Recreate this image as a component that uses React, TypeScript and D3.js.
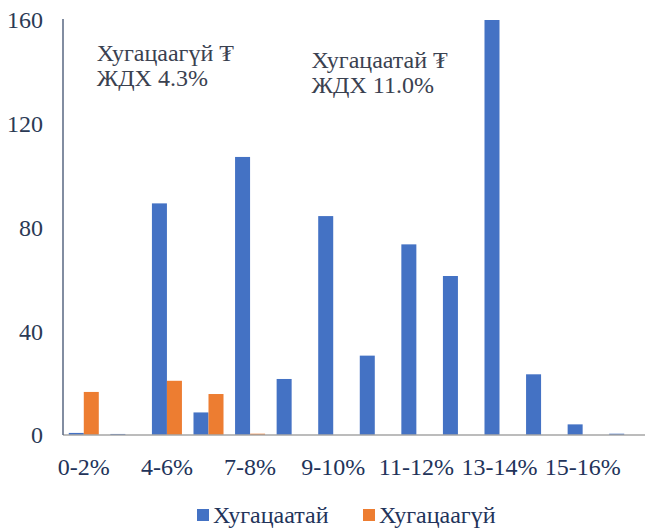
import React, { useEffect, useRef } from "react";
import * as d3 from "d3";

const categories = ["0-2%", "2-4%", "4-6%", "6-7%", "7-8%", "8-9%", "9-10%", "10-11%", "11-12%", "12-13%", "13-14%", "14-15%", "15-16%", "16-17%"];
const seriesNames = ["Хугацаатай", "Хугацаагүй"];
const withTerm = [0.8, 0.4, 89.3, 8.7, 107.2, 21.6, 84.4, 30.6, 73.5, 61.3, 160, 23.4, 4.1, 0.5];
const noTerm = [16.6, 0, 20.9, 15.8, 0.5, 0, 0, 0, 0, 0, 0, 0, 0, 0];
const yTicks = [0, 40, 80, 120, 160];
const colors = ["#4472C4", "#ED7D31"];
const annotations = [
  { lines: ["Хугацаагүй ₮", "ЖДХ 4.3%"], pos: 0.81, val: 144.3 },
  { lines: ["Хугацаатай ₮", "ЖДХ 11.0%"], pos: 5.98, val: 141.6 },
];

const W = 646;
const H = 532;
const M = { left: 63, right: 1, top: 20, bottom: 97 };
const FONT = "'Liberation Serif', 'Times New Roman', serif";

export default function App() {
  const ref = useRef<SVGSVGElement>(null);
  useEffect(() => {
    const svg = d3.select(ref.current);
    svg.selectAll("*").remove();
    const x0 = d3.scaleBand<string>().domain(categories).range([M.left, W - M.right]).paddingInner(0).paddingOuter(0);
    const bw = x0.bandwidth();
    const gap = (bw * 0.77) / 2.77;
    const x1 = d3.scaleBand<string>().domain(seriesNames).range([gap / 2, bw - gap / 2]).padding(0);
    const y = d3.scaleLinear().domain([0, 160]).range([H - M.bottom, M.top]);

    const data = [withTerm, noTerm];
    seriesNames.forEach((s, si) => {
      svg.append("g")
        .selectAll("rect")
        .data(categories.map((c, i) => ({ c, v: data[si][i] })))
        .join("rect")
        .attr("x", (d) => (x0(d.c) as number) + (x1(s) as number))
        .attr("y", (d) => y(d.v))
        .attr("width", x1.bandwidth())
        .attr("height", (d) => y(0) - y(d.v))
        .attr("fill", colors[si]);
    });

    svg.append("line")
      .attr("x1", M.left).attr("x2", W - M.right)
      .attr("y1", y(0)).attr("y2", y(0))
      .attr("stroke", "#a6a6a6").attr("stroke-width", 1.5);
    svg.append("line")
      .attr("x1", M.left).attr("x2", M.left)
      .attr("y1", y(160) - 1).attr("y2", y(0))
      .attr("stroke", "#596782").attr("stroke-width", 1.5);

    svg.append("g")
      .selectAll("text")
      .data(yTicks)
      .join("text")
      .attr("x", 43)
      .attr("y", (d) => y(d))
      .attr("dy", "0.35em")
      .attr("text-anchor", "end")
      .style("font-family", FONT)
      .attr("font-size", 24)
      .attr("fill", "#2b3a55")
      .text((d) => String(d));

    svg.append("g")
      .selectAll("text")
      .data(categories.filter((_, i) => i % 2 === 0))
      .join("text")
      .attr("x", (d) => (x0(d) as number) + bw / 2)
      .attr("y", 475)
      .attr("text-anchor", "middle")
      .style("font-family", FONT)
      .attr("font-size", 24)
      .attr("fill", "#22335a")
      .text((d) => d);

    annotations.forEach((a) => {
      const t = svg.append("text")
        .style("font-family", FONT)
        .attr("font-size", 24)
        .attr("fill", "#3a4150");
      const ax = M.left + a.pos * bw;
      a.lines.forEach((l, i) => {
        t.append("tspan").attr("x", ax).attr("y", y(a.val) + i * 25.5).text(l);
      });
    });

    const legendX = [197, 363];
    seriesNames.forEach((s, si) => {
      svg.append("rect")
        .attr("x", legendX[si]).attr("y", 509)
        .attr("width", 12).attr("height", 12)
        .attr("fill", colors[si]);
      svg.append("text")
        .attr("x", legendX[si] + 16).attr("y", 523)
        .style("font-family", FONT)
        .attr("font-size", 24)
        .attr("fill", "#22335a")
        .text(s);
    });
  }, []);
  return (
    <svg ref={ref} width={W} height={H} style={{ position: "absolute", left: 0, top: 0, background: "#fff" }} />
  );
}
